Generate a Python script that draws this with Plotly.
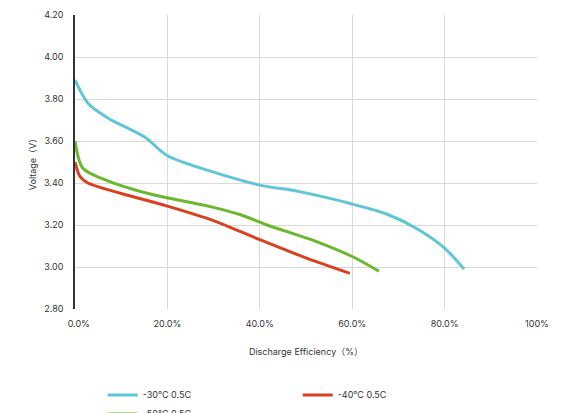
import plotly.graph_objects as go

# discharge curves
x_30 = [0, 2.8, 7.1, 15, 20, 28.8, 40, 48.3, 60, 67.7, 74.2, 80, 84.2]
y_30 = [3.89, 3.78, 3.71, 3.62, 3.53, 3.46, 3.39, 3.36, 3.30, 3.25, 3.18, 3.09, 2.99]

x_40 = [0, 1.1, 2.8, 10, 20, 30.1, 40, 50.4, 59.5]
y_40 = [3.50, 3.43, 3.40, 3.35, 3.29, 3.22, 3.13, 3.04, 2.97]

x_50 = [0, 1.7, 7.1, 15.8, 28.8, 35.7, 41.6, 52.4, 60, 65.8]
y_50 = [3.60, 3.47, 3.41, 3.35, 3.29, 3.25, 3.20, 3.12, 3.05, 2.98]

x_ticks = [0, 20, 40, 60, 80, 100]
x_labels = ["\u00a0\u00a0\u00a00.0%", "20.0%", "40.0%", "60.0%", "80.0%", "100%"]

series = [
    ("-30°C 0.5C", x_30, y_30, "#5ec6d6"),
    ("-40°C 0.5C", x_40, y_40, "#d9401f"),
    ("-50°C 0.5C", x_50, y_50, "#6ab82e"),
]

fig = go.Figure()
for name, xs, ys, col in series:
    fig.add_trace(go.Scatter(x=xs, y=ys, name=name, mode="lines",
                             line=dict(color=col, width=3, shape="spline", smoothing=0.8)))

fig.update_layout(
    width=566, height=413,
    plot_bgcolor="white", paper_bgcolor="white",
    margin=dict(l=67, r=37, t=7, b=112, autoexpand=False),
    font=dict(family="Inter, Noto Sans CJK SC", size=9, color="#333"),
    showlegend=True,
    legend=dict(orientation="h", x=0.06, xanchor="left", yref="container", y=0.04,
                yanchor="middle", entrywidth=150, font=dict(size=9)),
    xaxis=dict(range=[0, 100], tickvals=x_ticks, ticktext=x_labels,
               showgrid=True, gridcolor="#d9d9d9", zeroline=False, ticklen=6,
               tickcolor="white", ticks="outside",
               title=dict(text="Discharge Efficiency（%）", standoff=20, font=dict(size=9))),
    yaxis=dict(range=[2.8, 4.2], dtick=0.2, tickformat=".2f",
               showgrid=True, gridcolor="#d9d9d9", zeroline=False,
               showline=True, linecolor="#333", linewidth=1.5,
               ticks="outside", ticklen=8, tickcolor="white",
               title=dict(text="Voltage（V）", standoff=6, font=dict(size=9))),
)

fig.write_html("out.html")
